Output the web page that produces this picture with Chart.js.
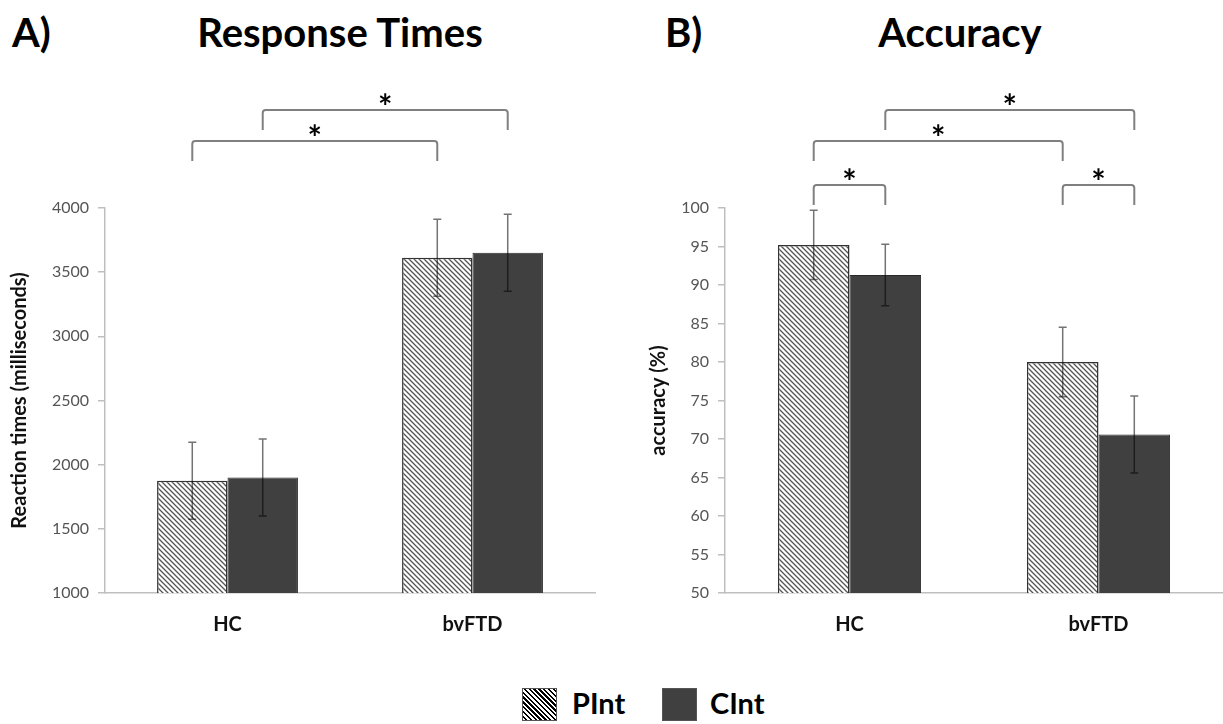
<!DOCTYPE html>
<html>
<head>
<meta charset="utf-8">
<script src="https://cdn.jsdelivr.net/npm/chart.js@4.4.0/dist/chart.umd.min.js"></script>
<style>
  body { margin: 0; width: 1223px; height: 724px; background: #fff; position: relative; overflow: hidden; font-family: Lato, sans-serif; }
  .t { position: absolute; font-weight: bold; color: #000; line-height: 1; white-space: nowrap; }
  canvas { position: absolute; top: 0; }
  #rtChart { left: 0; }
  #accChart { left: 640px; }
  .sw { position: absolute; top: 688px; width: 35px; height: 33px; box-sizing: border-box; border: 1px solid #555; }
  .hatch { background: repeating-linear-gradient(45deg, #fff 0 1.7px, #000 1.7px 3.4px); }
  .solid { background: #404040; }
</style>
</head>
<body>
<div class="t" style="left:12px; top:12px; font-size:40px;">A)</div>
<div class="t" style="left:340px; top:12px; font-size:40px; transform:translateX(-50%);">Response Times</div>
<div class="t" style="left:665px; top:12px; font-size:40px;">B)</div>
<div class="t" style="left:960px; top:12px; font-size:40px; transform:translateX(-50%);">Accuracy</div>
<canvas id="rtChart" width="600" height="670"></canvas>
<canvas id="accChart" width="583" height="670"></canvas>
<div id="legend"></div>
<script>
const groups = ['HC', 'bvFTD'];
const seriesNames = ['PInt', 'CInt'];

// reaction times (ms)
const rtPInt = [1875, 3613];
const rtCInt = [1900, 3652];
const rtPIntErr = [300, 300];
const rtCIntErr = [300, 300];

// accuracy (%)
const accPInt = [95.2, 80.0];
const accCInt = [91.3, 70.6];
const accPIntErr = [4.5, 4.5];
const accCIntErr = [4.0, 5.0];

// significance brackets: [dataset, group, dataset, group, level]
const rtBrackets = [[0, 0, 0, 1, 1], [1, 0, 1, 1, 2]];
const accBrackets = [[0, 0, 1, 0, 0], [0, 1, 1, 1, 0], [0, 0, 0, 1, 1], [1, 0, 1, 1, 2]];
const levelOffset = [23, 67, 98];

function hatchPattern() {
    const c = document.createElement('canvas');
    c.width = 5; c.height = 5;
    const g = c.getContext('2d');
    g.fillStyle = '#fff';
    g.fillRect(0, 0, 5, 5);
    g.strokeStyle = '#555';
    g.lineWidth = 1.3;
    g.beginPath();
    g.moveTo(-1, -1); g.lineTo(6, 6);
    g.moveTo(4, -1); g.lineTo(6, 1);
    g.moveTo(-1, 4); g.lineTo(1, 6);
    g.stroke();
    return g.createPattern(c, 'repeat');
}

const errorBars = {
    id: 'errorBars',
    afterDatasetsDraw(chart, args, opts) {
        const ctx = chart.ctx;
        const y = chart.scales.y;
        ctx.save();
        ctx.strokeStyle = 'rgba(0,0,0,0.55)';
        ctx.lineWidth = 1.5;
        chart.data.datasets.forEach((ds, d) => {
            chart.getDatasetMeta(d).data.forEach((bar, i) => {
                const top = y.getPixelForValue(ds.data[i] + ds.err[i]);
                const bot = y.getPixelForValue(ds.data[i] - ds.err[i]);
                ctx.beginPath();
                ctx.moveTo(bar.x, top); ctx.lineTo(bar.x, bot);
                ctx.moveTo(bar.x - 4, top); ctx.lineTo(bar.x + 4, top);
                ctx.moveTo(bar.x - 4, bot); ctx.lineTo(bar.x + 4, bot);
                ctx.stroke();
            });
        });
        ctx.restore();
    }
};

const brackets = {
    id: 'brackets',
    afterDraw(chart, args, opts) {
        const ctx = chart.ctx;
        const top = chart.chartArea.top;
        ctx.save();
        (opts.list || []).forEach(b => {
            const x1 = chart.getDatasetMeta(b[0]).data[b[1]].x;
            const x2 = chart.getDatasetMeta(b[2]).data[b[3]].x;
            const yy = top - levelOffset[b[4]];
            const r = 3, leg = 20;
            ctx.strokeStyle = '#808080';
            ctx.lineWidth = 2;
            ctx.beginPath();
            ctx.moveTo(x1, yy + leg);
            ctx.arcTo(x1, yy, x1 + r, yy, r);
            ctx.arcTo(x2, yy, x2, yy + r, r);
            ctx.lineTo(x2, yy + leg);
            ctx.stroke();
            ctx.fillStyle = '#000';
            ctx.font = 'bold 34px Lato';
            ctx.textAlign = 'center';
            ctx.textBaseline = 'alphabetic';
            ctx.fillText('*', (x1 + x2) / 2, yy + 9);
        });
        ctx.restore();
    }
};

function makeChart(id, pint, cint, perr, cerr, min, max, step, title, list, axisWidth, padRight, titlePad) {
    const ctx = document.getElementById(id).getContext('2d');
    return new Chart(ctx, {
        type: 'bar',
        data: {
            labels: groups,
            datasets: [{
                label: seriesNames[0],
                data: pint,
                err: perr,
                backgroundColor: hatchPattern(),
                borderColor: '#333',
                borderWidth: 1.5
            }, {
                label: seriesNames[1],
                data: cint,
                err: cerr,
                backgroundColor: '#404040',
                borderColor: '#2a2a2a',
                borderWidth: 1
            }]
        },
        options: {
            responsive: false,
            animation: false,
            layout: { padding: { top: 208, bottom: 13, left: 0, right: padRight } },
            datasets: { bar: { categoryPercentage: 0.575, barPercentage: 1 } },
            scales: {
                x: {
                    grid: { display: false, drawTicks: false },
                    border: { display: true, color: '#bfbfbf', width: 1.5 },
                    ticks: { padding: 20, color: '#111', font: { family: 'Lato', size: 20, weight: 'bold' } }
                },
                y: {
                    min: min,
                    max: max,
                    afterFit: s => { s.width = axisWidth; },
                    grid: { drawOnChartArea: false, drawTicks: true, tickLength: 7, color: '#bfbfbf', lineWidth: 1.5 },
                    border: { display: true, color: '#bfbfbf', width: 1.5 },
                    ticks: {
                        stepSize: step,
                        padding: 9,
                        color: '#555',
                        font: { family: 'Lato', size: 16 },
                        callback: v => String(v)
                    },
                    title: {
                        display: true,
                        text: title,
                        color: '#111',
                        padding: { top: titlePad, bottom: 0 },
                        font: { family: 'Lato', size: 20, weight: 'bold' }
                    }
                }
            },
            plugins: {
                legend: { display: false },
                tooltip: { enabled: false },
                brackets: { list: list }
            }
        },
        plugins: [errorBars, brackets]
    });
}

makeChart('rtChart', rtPInt, rtCInt, rtPIntErr, rtCIntErr, 1000, 4000, 500,
    'Reaction times (milliseconds)', rtBrackets, 105, 5, 8);
makeChart('accChart', accPInt, accCInt, accPIntErr, accCIntErr, 50, 100, 5,
    'accuracy (%)', accBrackets, 85, 0, 7);

// legend
const legend = document.getElementById('legend');
const swatchX = [522, 662];
const textX = [572, 710];
seriesNames.forEach((name, i) => {
    const sw = document.createElement('div');
    sw.className = 'sw ' + (i === 0 ? 'hatch' : 'solid');
    sw.style.left = swatchX[i] + 'px';
    legend.appendChild(sw);
    const t = document.createElement('div');
    t.className = 't';
    t.style.left = textX[i] + 'px';
    t.style.top = '688px';
    t.style.fontSize = '29px';
    t.textContent = name;
    legend.appendChild(t);
});
</script>
</body>
</html>
